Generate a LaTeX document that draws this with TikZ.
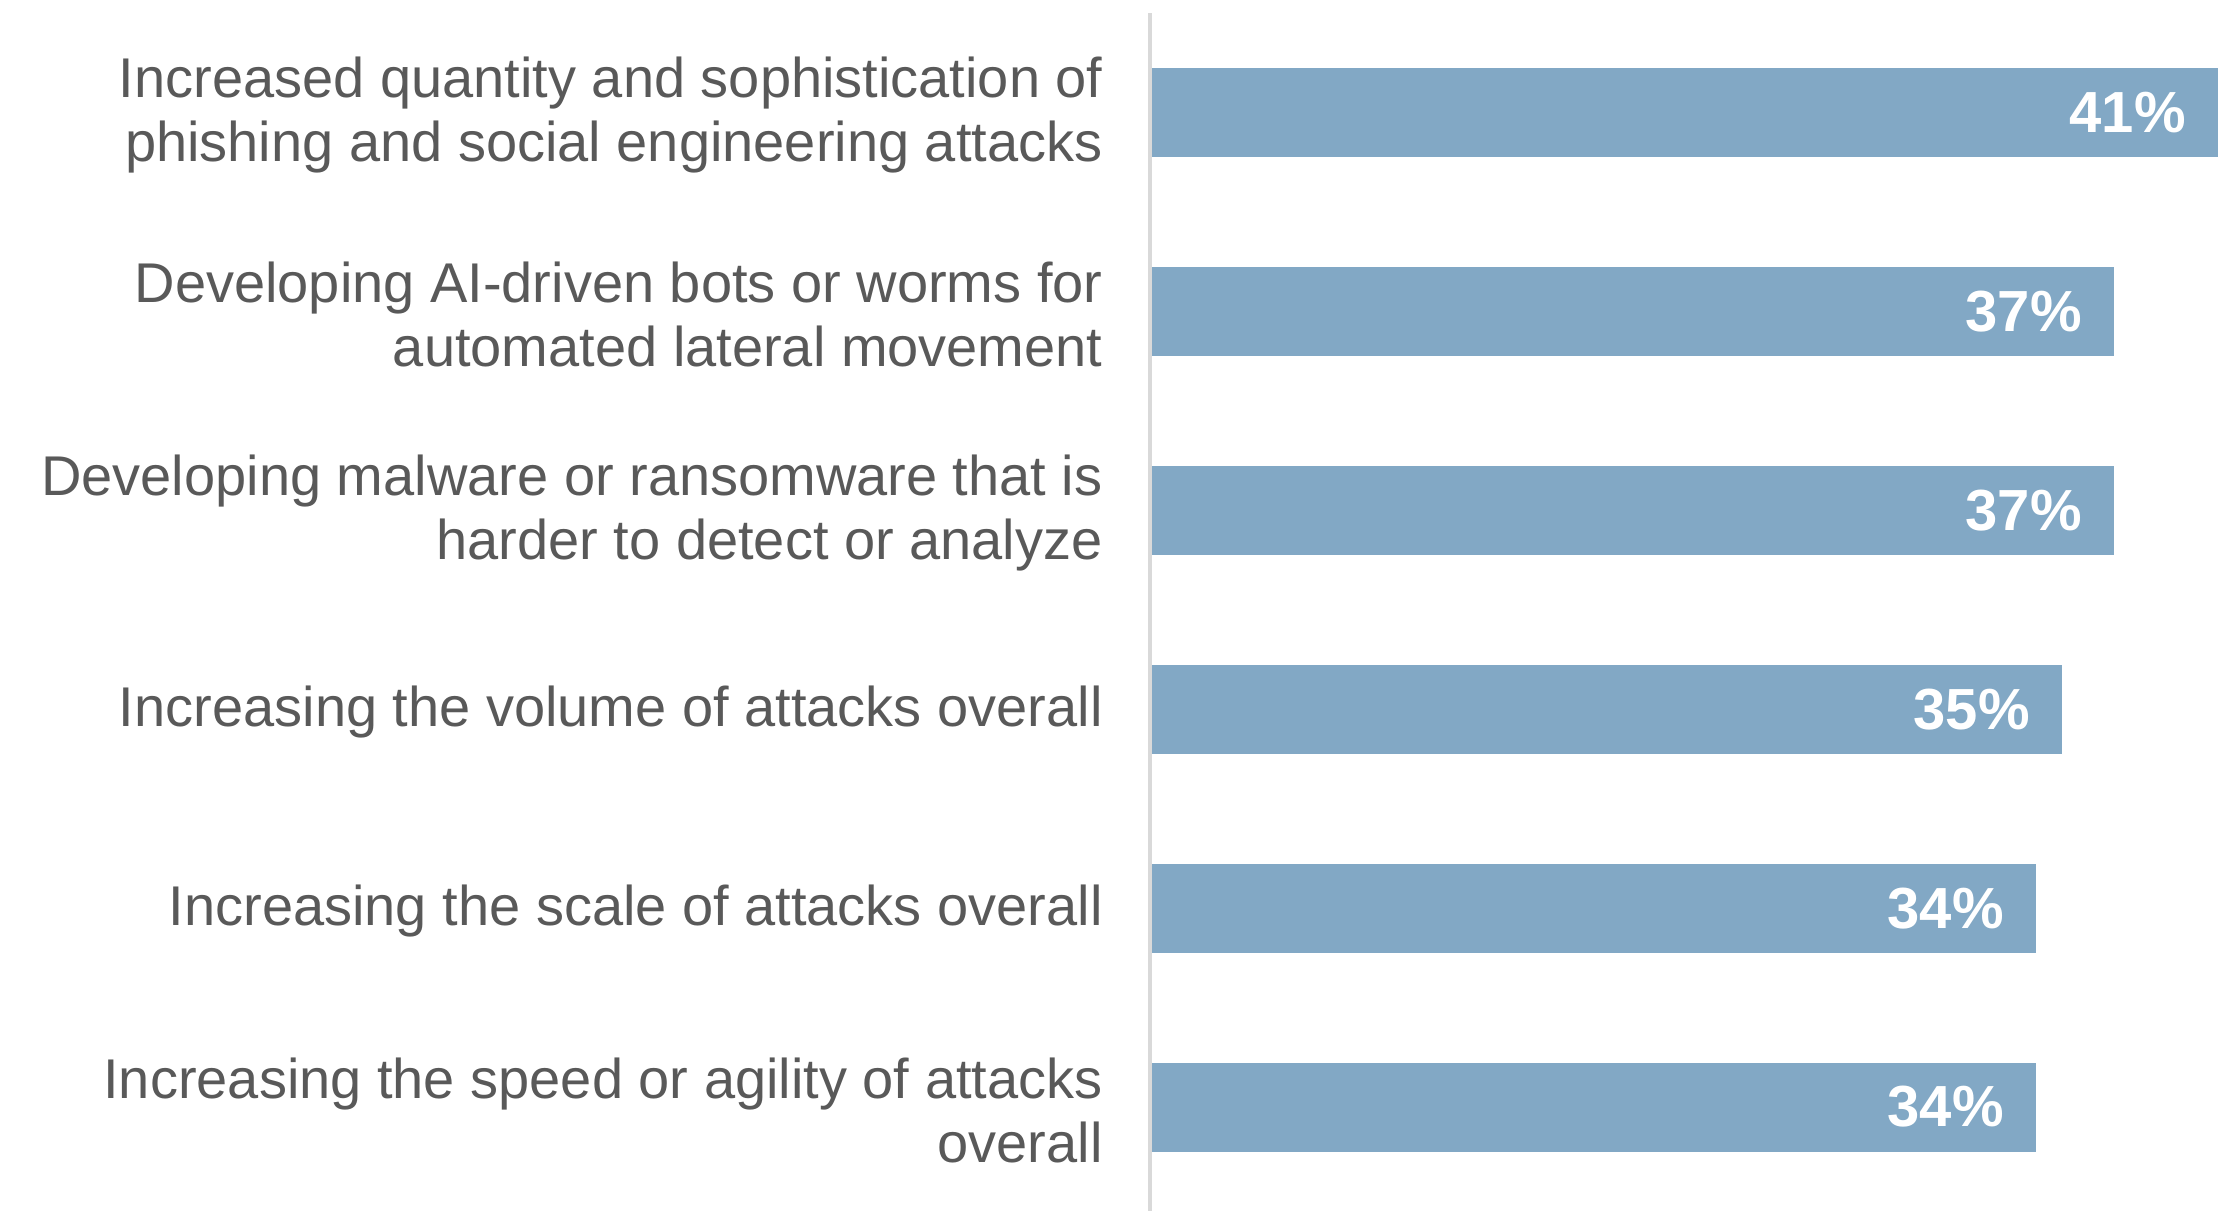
\documentclass[tikz,border=0pt]{standalone}
\usepackage{fontspec}
\setmainfont{Liberation Sans}
\definecolor{barblue}{RGB}{130,168,197}
\definecolor{labgray}{RGB}{89,89,89}
\definecolor{axisgray}{RGB}{217,217,217}
\begin{document}
\begin{tikzpicture}[x=0.5pt,y=-0.5pt,
  bar/.style={fill=barblue,draw=none,inner sep=0pt,minimum height=44.5pt,anchor=west},
  val/.style={text=white,font=\fontsize{29}{34}\selectfont\bfseries,inner sep=0pt,anchor=east},
  cat/.style={text=labgray,font=\fontsize{28}{32}\selectfont,align=right,inner sep=0pt,anchor=east},
  axisline/.style={draw=axisgray,line width=2pt}]
\useasboundingbox (0,0) rectangle (2234,1211);
\coordinate (atop) at (1150,13);
\coordinate (abot) at (1150,1211);
\draw[axisline] (atop) -- (abot);
\foreach \i/\v/\t in {0/41/{Increased quantity and sophistication of\\phishing and social engineering attacks},
                      1/37/{Developing AI-driven bots or worms for\\automated lateral movement},
                      2/37/{Developing malware or ransomware that is\\harder to detect or analyze},
                      3/35/{Increasing the volume of attacks overall},
                      4/34/{Increasing the scale of attacks overall},
                      5/34/{Increasing the speed or agility of attacks\\overall}}{
  \pgfmathsetmacro{\c}{112.5+\i*198.9}
  \pgfmathsetmacro{\w}{25.98*\v*0.5}
  \node[bar,minimum width=\w pt] (b\i) at (1152,\c) {};
  \node[val] (v\i) at ([xshift=-16pt]b\i.east) {\v\%};
  \node[cat] (c\i) at (1103,\c+3) {\t};
}
\end{tikzpicture}
\end{document}
